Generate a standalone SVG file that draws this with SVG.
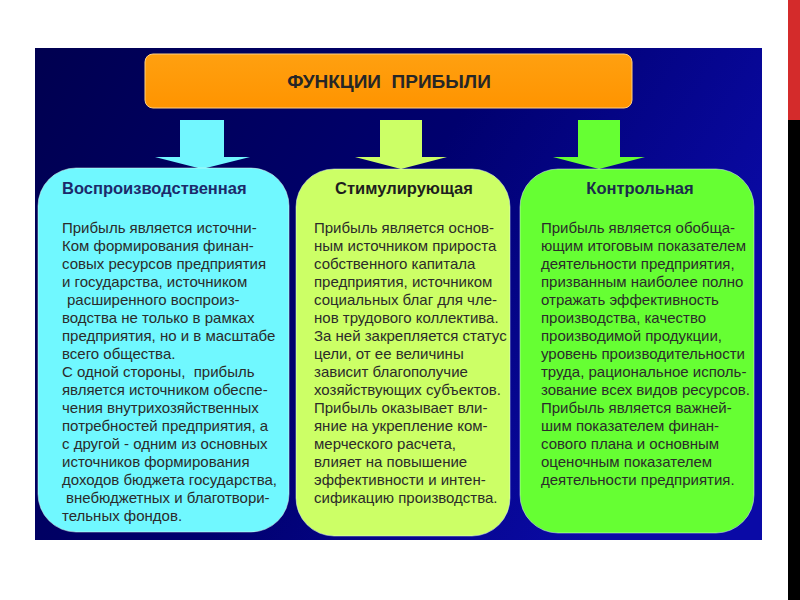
<svg xmlns="http://www.w3.org/2000/svg" width="800" height="600" viewBox="0 0 800 600">
<defs>
<linearGradient id="bg" x1="0" y1="0" x2="1" y2="0.4">
<stop offset="0" stop-color="#000050"/>
<stop offset="0.55" stop-color="#00006e"/>
<stop offset="1" stop-color="#0a0aa6"/>
</linearGradient>
<linearGradient id="orange" x1="0" y1="0" x2="0" y2="1">
<stop offset="0" stop-color="#ffa010"/>
<stop offset="1" stop-color="#ff9400"/>
</linearGradient>
</defs>
<style>
.body{font-family:"Liberation Sans",Arial,sans-serif;font-size:15px;fill:#2b2b2b}
.head{font-family:"Liberation Sans",Arial,sans-serif;font-size:16.5px;font-weight:bold}
.title{font-family:"Liberation Sans",Arial,sans-serif;font-size:19px;font-weight:bold;fill:#262626;white-space:pre}
.box{stroke:#e8fff0;stroke-width:1;stroke-opacity:0.5}
</style>
<rect x="0" y="0" width="800" height="600" fill="#ffffff"/>
<rect x="788" y="0" width="12" height="120" fill="#d42b2b"/>
<rect x="788" y="120" width="12" height="480" fill="#000000"/>
<rect id="panel" x="35" y="48" width="727" height="492" fill="url(#bg)"/>

<g id="connectors">
<polygon points="180,120 224,120 224,157 250,157 202,169 155,157 180,157" fill="#72f7ff"/>
<polygon points="380,120 422,120 422,157 447,157 401,169 355,157 380,157" fill="#ccff66"/>
<polygon points="578,120 620,120 620,157 645,157 599,169 553,157 578,157" fill="#66ff33"/>
</g>

<g id="node-title">
<rect x="145" y="54" width="487" height="54" rx="8" fill="url(#orange)" stroke="#ffd080" stroke-width="1"/>
<text class="title" x="389" y="88" text-anchor="middle" xml:space="preserve">ФУНКЦИИ  ПРИБЫЛИ</text>
</g>

<g id="node-vospr">
<rect class="box" x="38" y="168" width="251" height="364" rx="38" fill="#70f8ff"/>
<text class="head" x="62" y="194" fill="#1c2a6b">Воспроизводственная</text>
<text class="body" x="62" y="233">Прибыль является источни-</text>
<text class="body" x="62" y="251">Ком формирования финан-</text>
<text class="body" x="62" y="269">совых ресурсов предприятия</text>
<text class="body" x="62" y="287">и государства, источником</text>
<text class="body" x="67" y="305">расширенного воспроиз-</text>
<text class="body" x="62" y="323">водства не только в рамках</text>
<text class="body" x="62" y="341">предприятия, но и в масштабе</text>
<text class="body" x="62" y="359">всего общества.</text>
<text class="body" x="62" y="377" xml:space="preserve">С одной стороны,  прибыль</text>
<text class="body" x="62" y="395">является источником обеспе-</text>
<text class="body" x="62" y="413">чения внутрихозяйственных</text>
<text class="body" x="62" y="431">потребностей предприятия, а</text>
<text class="body" x="62" y="449">с другой - одним из основных</text>
<text class="body" x="62" y="467">источников формирования</text>
<text class="body" x="62" y="485">доходов бюджета государства,</text>
<text class="body" x="66" y="503">внебюджетных и благотвори-</text>
<text class="body" x="62" y="521">тельных фондов.</text>
</g>

<g id="node-stim">
<rect class="box" x="296" y="169" width="214" height="367" rx="38" fill="#ccff66"/>
<text class="head" x="404" y="194" text-anchor="middle" fill="#1e1e1e">Стимулирующая</text>
<text class="body" x="314" y="233">Прибыль является основ-</text>
<text class="body" x="314" y="251">ным источником прироста</text>
<text class="body" x="314" y="269">собственного капитала</text>
<text class="body" x="314" y="287">предприятия, источником</text>
<text class="body" x="314" y="305">социальных благ для чле-</text>
<text class="body" x="314" y="323">нов трудового коллектива.</text>
<text class="body" x="314" y="341">За ней закрепляется статус</text>
<text class="body" x="314" y="359">цели, от ее величины</text>
<text class="body" x="314" y="377">зависит благополучие</text>
<text class="body" x="314" y="395">хозяйствующих субъектов.</text>
<text class="body" x="314" y="413">Прибыль оказывает вли-</text>
<text class="body" x="314" y="431">яние на укрепление ком-</text>
<text class="body" x="314" y="449">мерческого расчета,</text>
<text class="body" x="314" y="467">влияет на повышение</text>
<text class="body" x="314" y="485">эффективности и интен-</text>
<text class="body" x="314" y="503">сификацию производства.</text>
</g>

<g id="node-kontr">
<rect class="box" x="520" y="169" width="234" height="364" rx="38" fill="#66ff33"/>
<text class="head" x="640" y="194" text-anchor="middle" fill="#1b2b4b">Контрольная</text>
<text class="body" x="541" y="233">Прибыль является обобща-</text>
<text class="body" x="541" y="251">ющим итоговым показателем</text>
<text class="body" x="541" y="269">деятельности предприятия,</text>
<text class="body" x="541" y="287">призванным наиболее полно</text>
<text class="body" x="541" y="305">отражать эффективность</text>
<text class="body" x="541" y="323">производства, качество</text>
<text class="body" x="541" y="341">производимой продукции,</text>
<text class="body" x="541" y="359">уровень производительности</text>
<text class="body" x="541" y="377">труда, рациональное исполь-</text>
<text class="body" x="541" y="395">зование всех видов ресурсов.</text>
<text class="body" x="541" y="413">Прибыль является важней-</text>
<text class="body" x="541" y="431">шим показателем финан-</text>
<text class="body" x="541" y="449">сового плана и основным</text>
<text class="body" x="541" y="467">оценочным показателем</text>
<text class="body" x="541" y="485">деятельности предприятия.</text>
</g>
</svg>
